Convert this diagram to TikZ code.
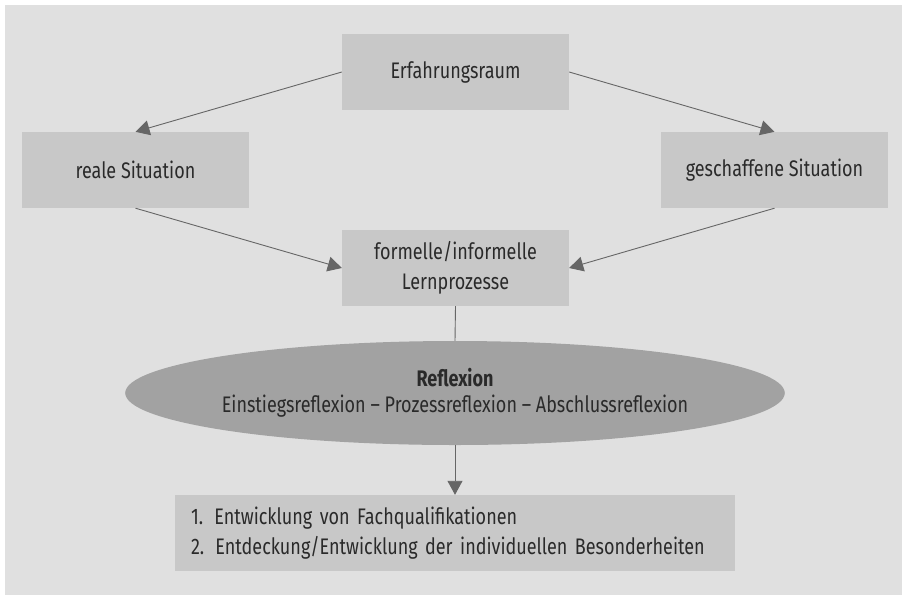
\documentclass[tikz,border=0pt]{standalone}
\usepackage{fontspec}
\setmainfont{Fira Sans}[FakeStretch=0.8]
\usetikzlibrary{shapes.geometric, arrows.meta}
\definecolor{hintergrund}{HTML}{E0E0E0}
\definecolor{kastengrau}{HTML}{C8C8C8}
\definecolor{ovalgrau}{HTML}{A2A2A2}
\definecolor{pfeilgrau}{HTML}{666666}
\definecolor{textgrau}{HTML}{2A2A2A}
\begin{document}
\begin{tikzpicture}[x=1pt, y=-1pt, >={Triangle[length=14pt, width=15pt]},
		font=\fontsize{22.5}{29.5}\selectfont,
		kasten/.style={fill=kastengrau, minimum width=227pt, minimum height=76pt, inner sep=0pt, align=center, text=textgrau},
		pfeil/.style={draw=pfeilgrau, line width=0.9pt}]
	% Hintergrund
	\fill[white] (0, 0) rectangle (902, 595);
	\fill[hintergrund] (5, 5) rectangle (902, 595);
	% Kästen oben
	\node[kasten] (erfahrung) at (455.5, 72) {Erfahrungsraum};
	\node[kasten] (real) at (135.5, 170) {reale Situation};
	\node[kasten] (geschaffen) at (774.5, 170) {geschaffene Situation};
	\node[kasten] (lernen) at (455.5, 268) {formelle/informelle\\Lernprozesse};
	% Reflexion
	\node[ellipse, fill=ovalgrau, minimum width=560pt, minimum height=104pt, inner sep=0pt, align=center, text=textgrau] (reflexion) at (455, 393) {\textbf{Reflexion}\\[-3pt]Einstiegsreflexion -- Prozessreflexion -- Abschlussreflexion};
	% Ergebnisse
	\node[kasten, minimum width=560pt, align=left, text width=528pt] (ergebnis) at (455, 533) {1. Entwicklung von Fachqualifikationen\\2. Entdeckung/Entwicklung der individuellen Besonderheiten};
	% Pfeile
	\draw[pfeil, ->] (erfahrung.west) -- (real.north);
	\draw[pfeil, ->] (erfahrung.east) -- (geschaffen.north);
	\draw[pfeil, ->] (real.south) -- (lernen.west);
	\draw[pfeil, ->] (geschaffen.south) -- (lernen.east);
	\draw[pfeil] (lernen.south) -- (reflexion.north);
	\draw[pfeil, ->] (reflexion.south) -- (ergebnis.north);
\end{tikzpicture}
\end{document}
